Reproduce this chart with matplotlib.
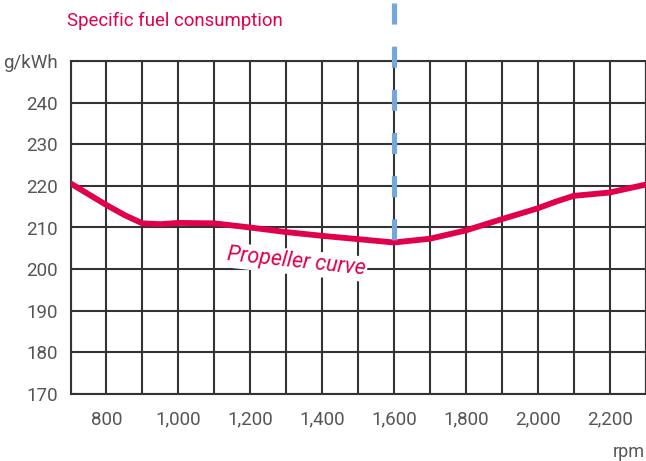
import matplotlib
matplotlib.use("Agg")
import matplotlib.pyplot as plt
from matplotlib.ticker import MultipleLocator, FixedLocator

rpm = [700, 750, 800, 850, 900, 950, 1000, 1100, 1200, 1300, 1400, 1500, 1600,
       1700, 1800, 1900, 2000, 2050, 2100, 2200, 2300]
sfc = [220.6, 218.0, 215.4, 213.0, 211.0, 210.8, 211.1, 211.0, 210.0, 208.9, 208.0,
       207.2, 206.4, 207.3, 209.3, 212.0, 214.6, 216.2, 217.6, 218.4, 220.3]
x_ticks = [800, 1000, 1200, 1400, 1600, 1800, 2000, 2200]
x_tick_labels = ["800", "1,000", "1,200", "1,400", "1,600", "1,800", "2,000", "2,200"]
y_ticks = [170, 180, 190, 200, 210, 220, 230, 240, 250]
y_tick_labels = ["170", "180", "190", "200", "210", "220", "230", "240", "g/kWh"]
marker_rpm = 1600
marker_sfc = 206.4

RED = "#E0004D"
BLUE = "#74A7DB"
GRID = "#333333"
TXT = "#555555"

plt.rcParams['font.family'] = ['Roboto', 'DejaVu Sans']

W, H = 646, 461
fig = plt.figure(figsize=(W / 100, H / 100), dpi=100)
ax = fig.add_axes([70.5 / W, (H - 394) / H, (645.5 - 70.5) / W, (394 - 61) / H])
ax.set_xlim(700, 2300)
ax.set_ylim(170, 250)

ax.xaxis.set_major_locator(FixedLocator(x_ticks))
ax.set_xticklabels(x_tick_labels)
ax.xaxis.set_minor_locator(MultipleLocator(100))
ax.set_yticks(y_ticks)
ax.set_yticklabels(y_tick_labels)

ax.grid(True, which="both", axis="x", color=GRID, linewidth=1.5)
ax.grid(True, which="major", axis="y", color=GRID, linewidth=1.5)
ax.set_axisbelow(True)
for s in ax.spines.values():
    s.set_color(GRID)
    s.set_linewidth(1.5)
ax.tick_params(which="both", length=0)
ax.tick_params(axis="x", pad=12, labelsize=13.5, labelcolor=TXT)
ax.tick_params(axis="y", pad=9, labelsize=13.5, labelcolor=TXT)

ax.plot(rpm, sfc, color=RED, linewidth=4.2, solid_capstyle="round", zorder=3)

# dashed marker drawn from the top down so the pattern starts at the top
ax.plot([marker_rpm, marker_rpm], [264.0, marker_sfc + 0.5], color=BLUE,
        linewidth=3.7, linestyle=(0, (4.1, 4.3)), clip_on=False, zorder=4,
        dash_capstyle="butt")

ax.text(1327, 201.7, "Propeller curve", color=RED, fontsize=15.5, style="italic",
        rotation=-6, ha="center", va="center", zorder=5,
        bbox=dict(facecolor="white", edgecolor="none", pad=1.5))

fig.text(67 / W, 1 - 21 / H, "Specific fuel consumption",
         color=RED, fontsize=13.4, ha="left", va="center")
fig.text(645 / W, 1 - 452 / H, "rpm", color=TXT, fontsize=13, ha="right", va="center")

fig.savefig("out.png", dpi=100)
